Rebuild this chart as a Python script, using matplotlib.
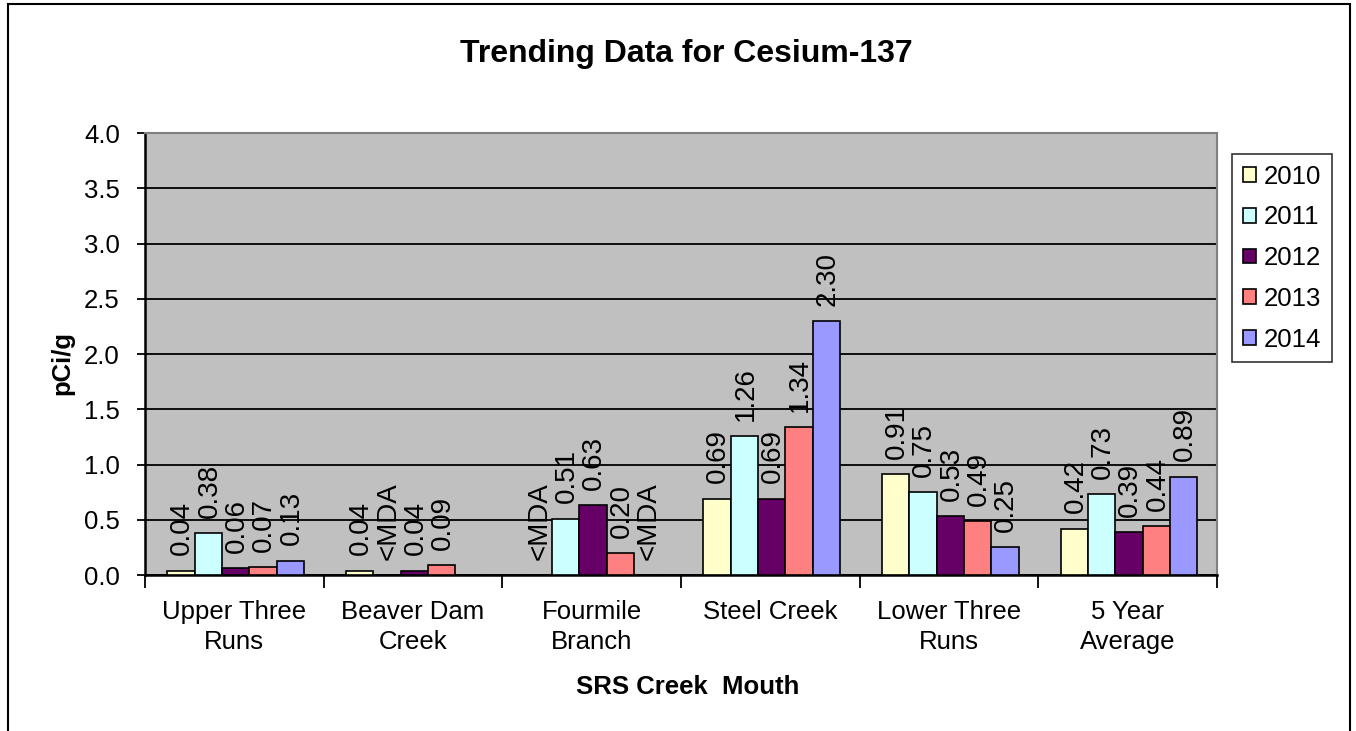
import numpy as np
import matplotlib.pyplot as plt
import matplotlib.patches as mpatches

sites = ["Upper Three\nRuns", "Beaver Dam\nCreek", "Fourmile\nBranch",
         "Steel Creek", "Lower Three\nRuns", "5 Year\nAverage"]
years = ["2010", "2011", "2012", "2013", "2014"]

# None = below detection / no bar
v2010 = [0.04, 0.04, None, 0.69, 0.91, 0.42]
v2011 = [0.38, None, 0.51, 1.26, 0.75, 0.73]
v2012 = [0.06, 0.04, 0.63, 0.69, 0.53, 0.39]
v2013 = [0.07, 0.09, 0.20, 1.34, 0.49, 0.44]
v2014 = [0.13, None, None, 2.30, 0.25, 0.89]

l2010 = ["0.04", "0.04", "<MDA", "0.69", "0.91", "0.42"]
l2011 = ["0.38", "<MDA", "0.51", "1.26", "0.75", "0.73"]
l2012 = ["0.06", "0.04", "0.63", "0.69", "0.53", "0.39"]
l2013 = ["0.07", "0.09", "0.20", "1.34", "0.49", "0.44"]
l2014 = ["0.13", "", "<MDA", "2.30", "0.25", "0.89"]

colors = ["#FFFFCC", "#CCFFFF", "#660066", "#FF8080", "#9999FF"]

series = [v2010, v2011, v2012, v2013, v2014]
labels = [l2010, l2011, l2012, l2013, l2014]

plt.rcParams['font.family'] = ['Liberation Sans', 'DejaVu Sans']
FS = 18.5

fig = plt.figure(figsize=(13.56, 7.31), dpi=100)
ax = fig.add_axes([0.1069, 0.2134, 0.7906, 0.6046])
ax.set_facecolor("#C0C0C0")

# outer chart frame (bottom edge runs off the image)
fig.patches.append(mpatches.Rectangle((8 / 1356, -0.05), 1342 / 1356, 1.05 - 4 / 731,
                                      transform=fig.transFigure, fill=False,
                                      edgecolor="black", linewidth=1.5))

bw = 0.153
x = np.arange(len(sites))
for i, (vals, labs) in enumerate(zip(series, labels)):
    xs = x + (i - 2) * bw + 0.007
    h = [v if v is not None else 0 for v in vals]
    ax.bar(xs, h, width=bw, color=colors[i], edgecolor="black", linewidth=1.2, zorder=3)
    for xx, hh, lab in zip(xs, h, labs):
        if lab:
            ax.annotate(lab, (xx, hh), xytext=(1, 11), textcoords="offset points",
                        rotation=90, ha="center", va="bottom", fontsize=20, zorder=4)

ax.set_xlim(-0.5, len(sites) - 0.5)
ax.set_ylim(0, 4.0)
ax.set_yticks(np.arange(0, 4.01, 0.5))
ax.set_yticklabels([f"{t:.1f}" for t in np.arange(0, 4.01, 0.5)], fontsize=FS)
ax.yaxis.grid(True, color="black", linewidth=1.3, zorder=1)
ax.set_axisbelow(True)
ax.tick_params(axis="y", length=6, width=1.3, pad=12)

ax.set_xticks(np.arange(-0.5, len(sites)), minor=False)
ax.set_xticklabels([])
ax.set_xticks(x, minor=True)
ax.set_xticklabels(sites, minor=True, fontsize=FS, linespacing=1.3)
ax.tick_params(axis="x", which="major", length=9, width=1.3, direction="out")
ax.tick_params(axis="x", which="minor", length=0, pad=18)

for s in ["top", "right"]:
    ax.spines[s].set_color("#808080")
    ax.spines[s].set_linewidth(1.5)
for s in ["left", "bottom"]:
    ax.spines[s].set_linewidth(1.8)

ax.set_ylabel("pCi/g", fontsize=FS, fontweight="bold")
ax.yaxis.set_label_coords(-0.066, 0.48)
fig.text(688 / 1356, 1 - 687 / 731, "SRS Creek  Mouth", ha="center", va="center",
         fontsize=FS, fontweight="bold")
fig.text(686 / 1356, 1 - 54 / 731, "Trending Data for Cesium-137", ha="center", va="center",
         fontsize=23, fontweight="bold")

handles = [mpatches.Patch(facecolor=c, edgecolor="black", linewidth=1.2) for c in colors]
leg = fig.legend(handles, years, loc="upper left", bbox_to_anchor=(1232 / 1356, 1 - 154 / 731),
                 fontsize=FS, frameon=True, fancybox=False, edgecolor="black",
                 handlelength=0.5, handleheight=0.5, handletextpad=0.3,
                 labelspacing=0.65, borderpad=0.42, borderaxespad=0)
leg.get_frame().set_linewidth(1.2)

fig.savefig("out.png", dpi=100)
